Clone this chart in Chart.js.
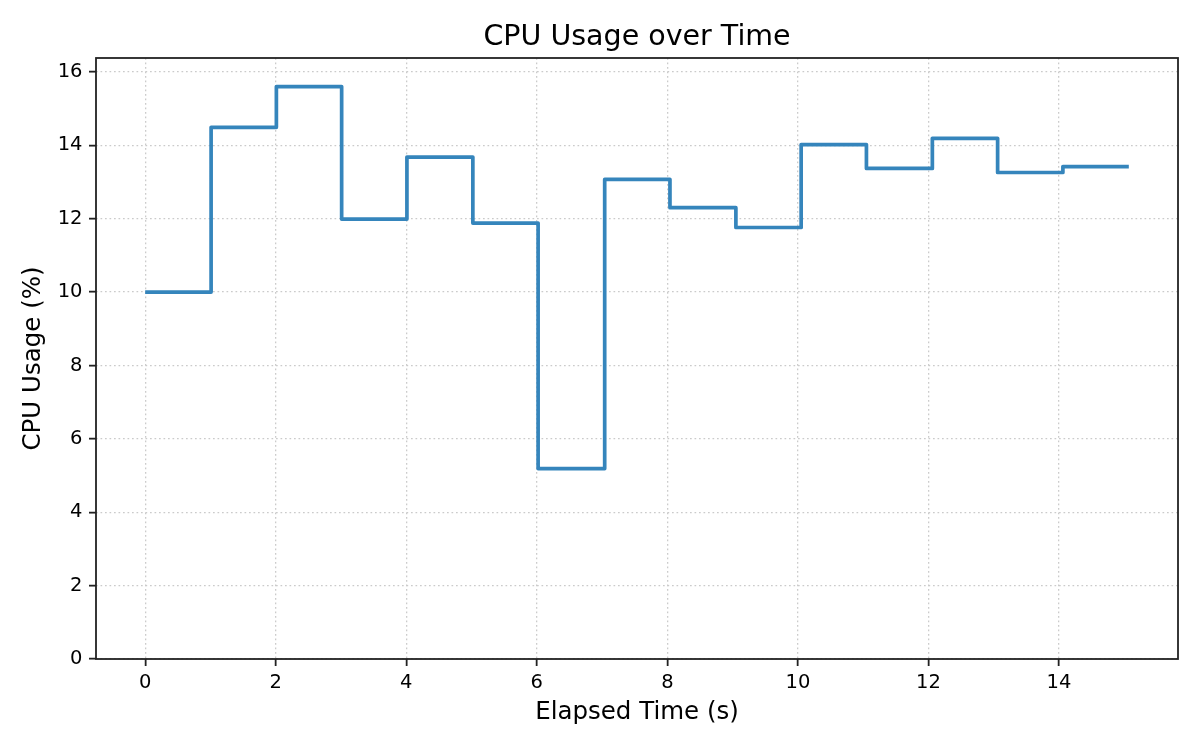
<!DOCTYPE html>
<html>
<head>
<meta charset="utf-8">
<title>CPU Usage over Time</title>
<script src="https://cdn.jsdelivr.net/npm/chart.js@4/dist/chart.umd.min.js"></script>
<style>
  html, body { margin: 0; padding: 0; background: #ffffff; }
  #wrap { width: 1200px; height: 750px; }
</style>
</head>
<body>
<div id="wrap"><canvas id="cpu-chart" width="1200" height="750"></canvas></div>
<script>
const elapsedTime = [0, 1.01, 2.01, 3.01, 4.01, 5.02, 6.02, 7.04, 8.04, 9.05, 10.05, 11.05, 12.06, 13.06, 14.06, 15.07];
const cpuUsage = [10.0, 14.49, 15.6, 11.99, 13.68, 11.88, 5.19, 13.07, 12.3, 11.76, 14.02, 13.37, 14.19, 13.26, 13.42, 13.42];

const xTicks = [0, 2, 4, 6, 8, 10, 12, 14];
const yTicks = [0, 2, 4, 6, 8, 10, 12, 14, 16];

const chartTitle = 'CPU Usage over Time';
const xTitle = 'Elapsed Time (s)';
const yTitle = 'CPU Usage (%)';

// axis limits like matplotlib's 5% margins (y starts at zero)
const xSpan = elapsedTime[elapsedTime.length - 1] - elapsedTime[0];
const xMin = elapsedTime[0] - xSpan * 0.05;
const xMax = elapsedTime[elapsedTime.length - 1] + xSpan * 0.05;
const yMax = Math.max(...cpuUsage) * 1.05;

const FONT = "'DejaVu Sans', sans-serif";
const INK = '#000000';
const SPINE = '#222222';
const GRID = '#cbcbcb';

// Draws the title and the four spines around the plot box
const framePlugin = {
  id: 'frame',
  afterDraw(chart) {
    const { ctx, chartArea } = chart;
    ctx.save();
    ctx.strokeStyle = SPINE;
    ctx.lineWidth = 1.8;
    ctx.strokeRect(chartArea.left, chartArea.top,
      chartArea.right - chartArea.left, chartArea.bottom - chartArea.top);

    ctx.fillStyle = INK;
    ctx.font = '28.5px ' + FONT;
    ctx.textAlign = 'center';
    ctx.textBaseline = 'alphabetic';
    ctx.fillText(chartTitle, (chartArea.left + chartArea.right) / 2, 45);
    ctx.restore();
  }
};

const points = elapsedTime.map((t, i) => ({ x: t, y: cpuUsage[i] }));

const ctx = document.getElementById('cpu-chart').getContext('2d');
new Chart(ctx, {
  type: 'line',
  data: {
    datasets: [{
      label: 'CPU Usage',
      data: points,
      stepped: 'before',
      borderColor: '#3585bc',
      borderWidth: 3.7,
      borderJoinStyle: 'round',
      borderCapStyle: 'butt',
      pointRadius: 0,
      pointHoverRadius: 0,
      fill: false,
      tension: 0
    }]
  },
  options: {
    responsive: false,
    devicePixelRatio: 1,
    animation: false,
    events: [],
    layout: {
      padding: { top: 58, right: 22, bottom: 0, left: 0 }
    },
    plugins: {
      legend: { display: false },
      title: { display: false },
      tooltip: { enabled: false }
    },
    scales: {
      x: {
        type: 'linear',
        min: xMin,
        max: xMax,
        afterBuildTicks: (scale) => { scale.ticks = xTicks.map(v => ({ value: v })); },
        afterFit: (scale) => { scale.height = 91; },
        grid: {
          color: GRID,
          lineWidth: 1.3,
          tickColor: SPINE,
          tickWidth: 1.8,
          tickLength: 7
        },
        border: { display: false, dash: [1.7, 2.8] },
        ticks: {
          color: INK,
          padding: 5,
          maxRotation: 0,
          font: { family: FONT, size: 19.5 }
        },
        title: {
          display: true,
          text: xTitle,
          color: INK,
          font: { family: FONT, size: 24.5 },
          padding: { top: 0, bottom: 22.8 }
        }
      },
      y: {
        type: 'linear',
        min: 0,
        max: yMax,
        afterBuildTicks: (scale) => { scale.ticks = yTicks.map(v => ({ value: v })); },
        afterFit: (scale) => { scale.width = 96; },
        grid: {
          color: GRID,
          lineWidth: 1.3,
          tickColor: SPINE,
          tickWidth: 1.8,
          tickLength: 7
        },
        border: { display: false, dash: [1.7, 2.8] },
        ticks: {
          color: INK,
          padding: 6.5,
          font: { family: FONT, size: 19.5 }
        },
        title: {
          display: true,
          text: yTitle,
          color: INK,
          font: { family: FONT, size: 24.5 },
          padding: { top: 18.8, bottom: 0 }
        }
      }
    }
  },
  plugins: [framePlugin]
});
</script>
</body>
</html>
